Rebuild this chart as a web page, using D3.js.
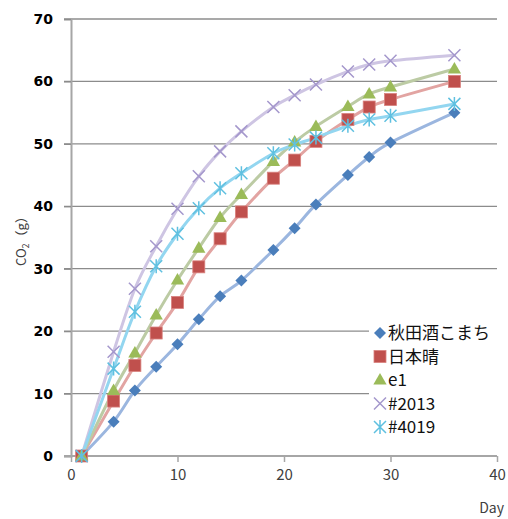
<!DOCTYPE html>
<html><head><meta charset="utf-8">
<script src="https://cdn.jsdelivr.net/npm/d3@7"></script>
<style>
html,body{margin:0;padding:0;background:#fff;}
svg{display:block;}
</style></head>
<body>
<script>
const days = [1,4,6,8,10,12,14,16,19,21,23,26,28,30,36];
const akitaKomachi = [0,5.5,10.5,14.3,17.9,21.9,25.6,28.1,33.0,36.5,40.3,45.0,47.9,50.2,55.0];
const nipponbare = [0,8.8,14.5,19.7,24.6,30.3,34.8,39.1,44.5,47.4,50.4,53.9,55.9,57.1,60.0];
const e1 = [0,10.5,16.5,22.6,28.2,33.3,38.2,41.9,47.2,50.3,52.8,56.0,58.0,59.1,62.0];
const s2013 = [0,16.7,26.8,33.6,39.6,44.8,48.8,52.0,55.9,57.8,59.5,61.6,62.7,63.3,64.2];
const s4019 = [0,14.0,23.1,30.4,35.6,39.7,42.9,45.3,48.5,49.9,51.0,52.9,53.9,54.5,56.4];
const seriesNames = ["秋田酒こまち","日本晴","e1","#2013","#4019"];
const yTicks = [0,10,20,30,40,50,60,70];
const xTicks = [0,10,20,30,40];

const series = [
  {name: seriesNames[0], values: akitaKomachi, marker: "diamond", fill: "#4a7ebb", line: "#9bb6df"},
  {name: seriesNames[1], values: nipponbare, marker: "square", fill: "#c0504d", line: "#e2a4a2"},
  {name: seriesNames[2], values: e1, marker: "triangle", fill: "#9bbb59", line: "#bccba4"},
  {name: seriesNames[3], values: s2013, marker: "x", fill: "#a497cc", line: "#cec5e3"},
  {name: seriesNames[4], values: s4019, marker: "star", fill: "#5fc0e0", line: "#93d6f0"}
];

const W = 508, H = 519;
const svg = d3.select("body").append("svg").attr("width", W).attr("height", H);
const x = d3.scaleLinear().domain([0,40]).range([71,497]);
const y = d3.scaleLinear().domain([0,70]).range([456,19]);

// gridlines
svg.append("g").selectAll("line").data(yTicks.filter(d => d > 0)).join("line")
  .attr("x1", 64).attr("x2", 497)
  .attr("y1", d => y(d)).attr("y2", d => y(d))
  .attr("stroke", "#8c8c8c").attr("stroke-width", 1.3);

// y axis
const yAxis = d3.axisLeft(y).tickValues(yTicks).tickSize(7).tickPadding(11).tickFormat(d3.format("d"));
const gy = svg.append("g").attr("transform", `translate(71,0)`).call(yAxis);
gy.select(".domain").attr("stroke", "#a6a6a6").attr("stroke-width", 2);
gy.selectAll(".tick line").attr("stroke", "#8c8c8c").attr("stroke-width", 1.3);
gy.selectAll(".tick text").attr("font-family", "DejaVu Sans").attr("font-weight", "bold")
  .attr("font-size", 14).attr("fill", "#000");

// x axis
const xAxis = d3.axisBottom(x).tickValues(xTicks).tickSize(6).tickPadding(7).tickFormat(d3.format("d"));
const gx = svg.append("g").attr("transform", `translate(0,456)`).call(xAxis);
gx.select(".domain").attr("stroke", "#a6a6a6").attr("stroke-width", 2)
  .attr("d", "M64,0H497");
gx.selectAll(".tick line").attr("stroke", "#a6a6a6").attr("stroke-width", 1.5);
gx.selectAll(".tick text").attr("font-family", "'Noto Sans CJK JP'")
  .attr("font-size", 15).attr("fill", "#404040");

// lines
const lineGen = d3.line().x((d,i) => x(days[i])).y(d => y(d)).curve(d3.curveCatmullRom.alpha(0));
const gl = svg.append("g");
series.forEach(s => {
  gl.append("path").attr("d", lineGen(s.values)).attr("fill", "none")
    .attr("stroke", s.line).attr("stroke-width", 3).attr("stroke-linecap", "round");
});

function drawMarker(g, type, cx, cy, s) {
  if (type === "diamond") {
    const r = 6;
    g.append("path").attr("d", `M${cx},${cy-r}L${cx+r},${cy}L${cx},${cy+r}L${cx-r},${cy}Z`).attr("fill", s.fill);
  } else if (type === "square") {
    const r = 6;
    g.append("rect").attr("x", cx-r).attr("y", cy-r).attr("width", 2*r).attr("height", 2*r)
      .attr("fill", s.fill).attr("stroke", "#d9827f").attr("stroke-width", 0.8);
  } else if (type === "triangle") {
    const r = 7;
    g.append("path").attr("d", `M${cx},${cy-r}L${cx+r*0.95},${cy+r*0.65}L${cx-r*0.95},${cy+r*0.65}Z`).attr("fill", s.fill);
  } else if (type === "x") {
    const r = 6;
    g.append("path").attr("d", `M${cx-r},${cy-r}L${cx+r},${cy+r}M${cx-r},${cy+r}L${cx+r},${cy-r}`)
      .attr("stroke", s.fill).attr("stroke-width", 1.5).attr("fill", "none");
  } else if (type === "star") {
    const r = 6;
    g.append("path").attr("d", `M${cx-r},${cy-r}L${cx+r},${cy+r}M${cx-r},${cy+r}L${cx+r},${cy-r}M${cx},${cy-r-1}L${cx},${cy+r+1}`)
      .attr("stroke", s.fill).attr("stroke-width", 1.5).attr("fill", "none");
  }
}

// markers
const gm = svg.append("g");
series.forEach(s => {
  s.values.forEach((v,i) => drawMarker(gm, s.marker, x(days[i]), y(v), s));
});

// legend
const lg = svg.append("g");
lg.append("rect").attr("x", 369).attr("y", 318).attr("width", 139).attr("height", 122).attr("fill", "#fff");
const legendY = d3.scaleLinear().domain([0,4]).range([333,427]);
series.forEach((s,i) => {
  const cy = legendY(i);
  drawMarker(lg, s.marker, 380, cy, s);
  lg.append("text").attr("x", 388).attr("y", cy).attr("dy", "0.36em")
    .attr("font-family", "'Noto Sans CJK JP'").attr("font-size", 17).attr("fill", "#111")
    .text(s.name);
});

// axis titles
svg.append("text").attr("transform", "translate(26,238) rotate(-90)")
  .attr("text-anchor", "middle").attr("font-family", "'Noto Sans CJK JP'")
  .attr("font-size", 13).attr("fill", "#404040")
  .html('CO<tspan font-size="9" dy="3">2</tspan><tspan dy="-3">（g）</tspan>');

svg.append("text").attr("x", 504).attr("y", 513).attr("text-anchor", "end")
  .attr("font-family", "'Noto Sans CJK JP'").attr("font-size", 14).attr("fill", "#404040")
  .text("Day");
</script>
</body></html>
